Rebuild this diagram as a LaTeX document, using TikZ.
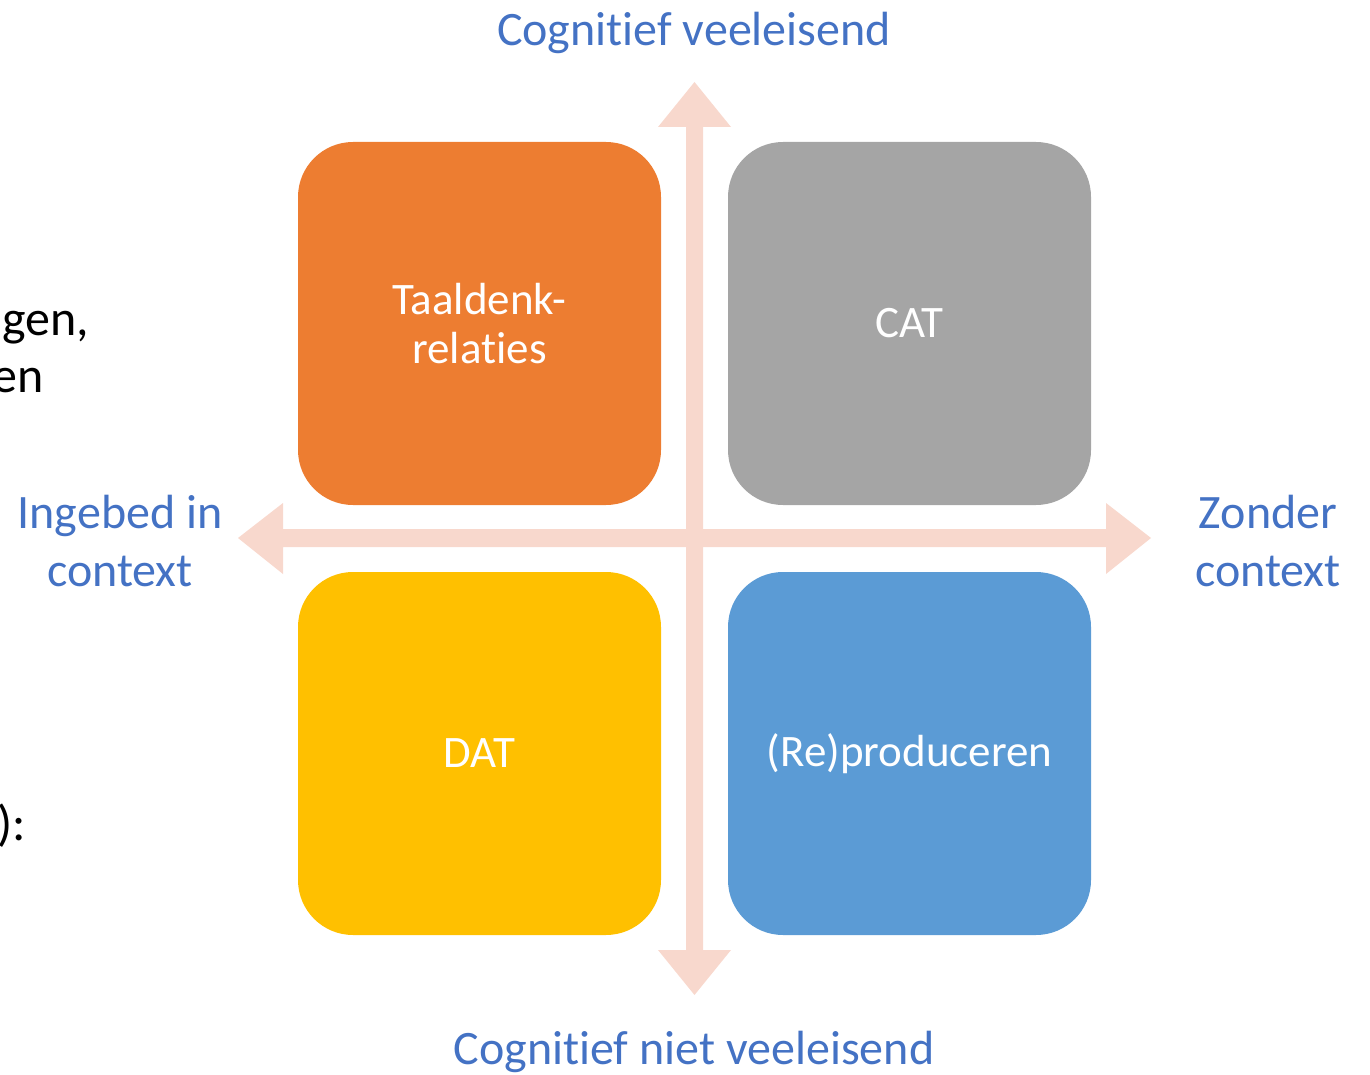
\documentclass[tikz,border=0pt]{standalone}
\usepackage{fontspec}
\setmainfont[Ligatures=NoCommon]{Carlito}
\definecolor{arrowc}{HTML}{F8D8CD}
\definecolor{orangec}{HTML}{ED7D31}
\definecolor{greyc}{HTML}{A5A5A5}
\definecolor{yellowc}{HTML}{FFC000}
\definecolor{bluec}{HTML}{5B9BD5}
\definecolor{labelc}{HTML}{4472C4}
\tikzset{
  quad/.style={rounded corners=55pt, minimum width=363pt, minimum height=363pt, inner sep=0pt, text=white, align=center, font=\fontsize{45}{49}\selectfont},
  axislabel/.style={text=labelc, align=center, inner sep=0pt, font=\fontsize{48}{58}\selectfont},
  bgtext/.style={text=black, inner sep=0pt, anchor=base east, font=\fontsize{50}{58}\selectfont},
}
\begin{document}
\begin{tikzpicture}[x=1pt,y=-1pt]
\useasboundingbox (0,0) rectangle (1370,1075);
% axes (block arrows)
\coordinate (c) at (694.5,538);
\fill[arrowc] (686,127) -- (658,127) -- (694.5,82) -- (731,127) -- (703,127)
  -- (703,950) -- (731,950) -- (694.5,995) -- (658,950) -- (686,950) -- cycle;
\fill[arrowc] (283,529) -- (283,503) -- (238,538) -- (283,574) -- (283,547)
  -- (1106,547) -- (1106,574) -- (1151,538) -- (1106,503) -- (1106,529) -- cycle;
% quadrants
\node[quad, fill=orangec] (tl) at (479.5,323.5) {Taaldenk-\\relaties};
\node[quad, fill=greyc] (tr) at (909.5,323.5) {CAT};
\node[quad, fill=yellowc] (bl) at (479.5,753.5) {DAT};
\node[quad, fill=bluec] (br) at (909.5,753.5) {(Re)produceren};
% axis labels
\node[axislabel] (top) at (694,33) {Cognitief veeleisend};
\node[axislabel] (bottom) at (694,1052) {Cognitief niet veeleisend};
\node[axislabel] (left) at (120,541) {Ingebed in\\context};
\node[axislabel] (right) at (1268,541) {Zonder\\context};
% cut-off background text
\node[bgtext] (bg1) at (89,335) {gen,};
\node[bgtext] (bg2) at (44,392) {en};
\node[bgtext] (bg3) at (26,840) {):};
\end{tikzpicture}
\end{document}
